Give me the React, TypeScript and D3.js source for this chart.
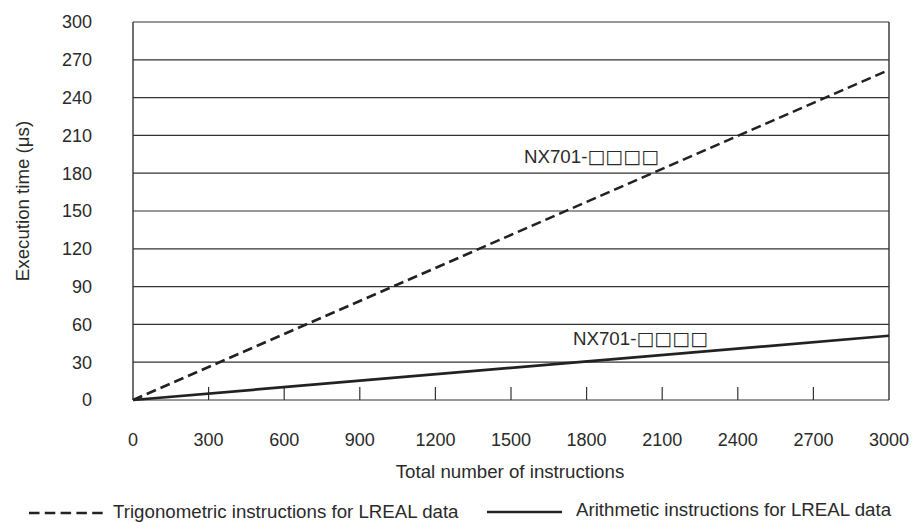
import React from "react";
import * as d3 from "d3";

const xTicks = [0, 300, 600, 900, 1200, 1500, 1800, 2100, 2400, 2700, 3000];
const yTicks = [0, 30, 60, 90, 120, 150, 180, 210, 240, 270, 300];
const trigX = [0, 3000];
const trigY = [0, 262];
const arithX = [0, 3000];
const arithY = [0, 51];
const labelPrefix = "NX701-";
const labelBoxes = "□□□□";
const xTitle = "Total number of instructions";
const yTitle = "Execution time (μs)";
const legendTrig = "Trigonometric instructions for LREAL data";
const legendArith = "Arithmetic instructions for LREAL data";

export default function App() {
  const W = 912, H = 523;
  const m = { left: 133, right: 889, top: 22, bottom: 400 };
  const x = d3.scaleLinear().domain([0, 3000]).range([m.left, m.right]);
  const y = d3.scaleLinear().domain([0, 300]).range([m.bottom, m.top]);
  const line = d3.line<[number, number]>().x(d => x(d[0])).y(d => y(d[1]));
  const trig = line(trigX.map((v, i) => [v, trigY[i]]) as [number, number][]) || "";
  const arith = line(arithX.map((v, i) => [v, arithY[i]]) as [number, number][]) || "";
  const font = "'Liberation Sans', Arial, Helvetica, sans-serif";
  const boxFont = "'DejaVu Sans', sans-serif";
  const ink = "#2a2a2a";
  const fs = 18;
  const fs2 = 18.7;
  return (
    <svg width={W} height={H} style={{ position: "absolute", left: 0, top: 0 }} fontFamily={font}>
      <rect width={W} height={H} fill="#fff" />
      {yTicks.map(t => (
        <line key={"g" + t} x1={m.left} x2={m.right} y1={y(t)} y2={y(t)} stroke="#333" strokeWidth={1.2} />
      ))}
      <line x1={m.left} x2={m.left} y1={m.top} y2={m.bottom} stroke="#333" strokeWidth={1.4} />
      <line x1={m.right} x2={m.right} y1={m.top} y2={m.bottom} stroke="#333" strokeWidth={1.4} />
      {xTicks.slice(1, -1).map(t => (
        <line key={"t" + t} x1={x(t)} x2={x(t)} y1={m.bottom} y2={m.bottom - 13} stroke="#333" strokeWidth={1.2} />
      ))}
      {yTicks.map(t => (
        <text key={"yl" + t} x={92} y={y(t)} dy="0.35em" textAnchor="end" fontSize={fs} fill={ink}>{t}</text>
      ))}
      {xTicks.map(t => (
        <text key={"xl" + t} x={x(t)} y={446} textAnchor="middle" fontSize={fs} fill={ink}>{t}</text>
      ))}
      <text x={510} y={478} textAnchor="middle" fontSize={fs2} fill={ink}>{xTitle}</text>
      <text transform={`translate(29,201) rotate(-90)`} textAnchor="middle" fontSize={fs2} fill={ink}>{yTitle}</text>
      <path d={trig} fill="none" stroke="#222" strokeWidth={2.6} strokeDasharray="10,5" />
      <path d={arith} fill="none" stroke="#222" strokeWidth={2.7} />
      <text x={524} y={163} fontSize={fs2} fill={ink}>
        {labelPrefix}
        <tspan fontFamily={boxFont} fontSize={19} fill={ink}>{labelBoxes}</tspan>
      </text>
      <text x={573} y={345} fontSize={fs2} fill={ink}>
        {labelPrefix}
        <tspan fontFamily={boxFont} fontSize={19} fill={ink}>{labelBoxes}</tspan>
      </text>
      <line x1={29} x2={103} y1={513} y2={513} stroke="#222" strokeWidth={2.4} strokeDasharray="10.5,5.3" />
      <text x={113} y={518} fontSize={fs2} fill={ink}>{legendTrig}</text>
      <line x1={487} x2={562} y1={512} y2={512} stroke="#222" strokeWidth={2.4} />
      <text x={576} y={516} fontSize={fs2} fill={ink}>{legendArith}</text>
    </svg>
  );
}
